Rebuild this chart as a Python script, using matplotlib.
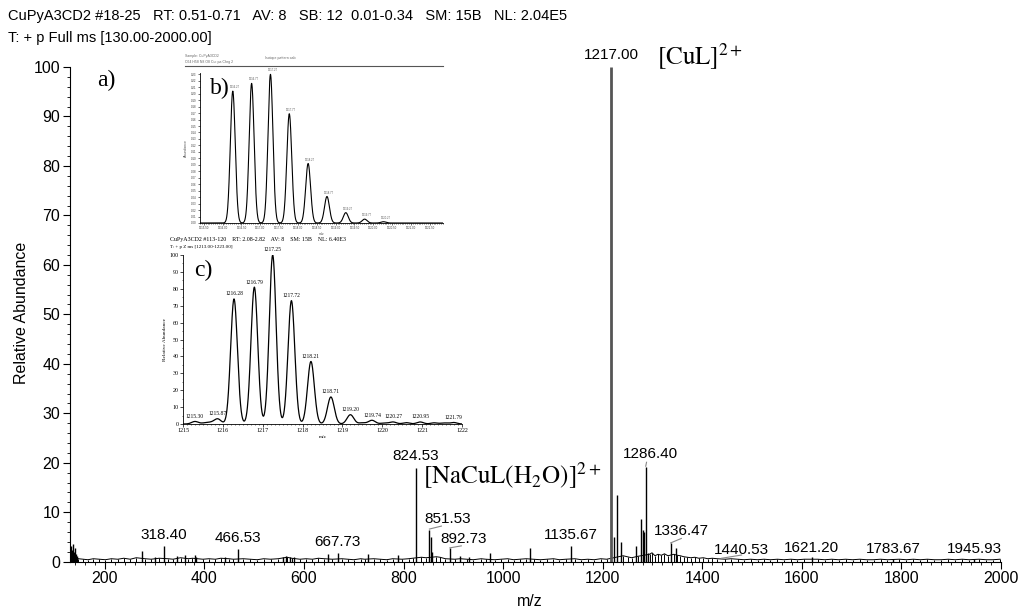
import numpy as np
import matplotlib
matplotlib.use('Agg')
import matplotlib.pyplot as plt
from matplotlib.ticker import MultipleLocator, FormatStrFormatter
from matplotlib.lines import Line2D

plt.rcParams['font.family'] = ['Liberation Sans', 'DejaVu Sans']
plt.rcParams['mathtext.fontset'] = 'stix'

# ---- main spectrum (m/z, relative abundance) ----
peak_mz = [133, 134.5, 136, 137.5, 139.5, 141.5, 144, 274, 300, 318.4, 344, 361, 381, 384,
           442, 466.53, 557, 563, 571, 579, 649, 667.73, 729, 789, 824.53, 851.53, 855, 858,
           892.73, 913, 932, 973, 1054, 1135.67, 1222, 1228, 1236, 1266, 1277, 1281, 1283,
           1286.4, 1291, 1336.47, 1347, 1621.2, 1783.67, 1945.93]
peak_h = [3.2, 2.4, 3.5, 2.0, 2.8, 1.6, 1.2, 2.2, 0.9, 3.2, 1.2, 1.4, 1.3, 1.0,
          0.9, 2.6, 1.0, 1.2, 1.0, 0.9, 1.6, 1.7, 1.6, 1.3, 18.9, 6.5, 5.0, 2.0,
          2.7, 1.1, 1.0, 1.7, 2.7, 3.2, 5.0, 13.5, 4.0, 3.2, 8.6, 6.4, 6.0,
          19.2, 1.8, 3.8, 2.8, 0.9, 0.6, 0.5]

# base peak (drawn grey, thick)
base_mz = [1217.0]
base_h = [100]

noise_mz = [131, 139, 147, 156, 166, 177, 189, 201, 213, 226, 238, 251, 263, 281, 293, 309,
            327, 337, 352, 368, 376, 397, 409, 422, 433, 449, 458, 478, 492, 506, 519, 533,
            548, 566, 575, 592, 604, 617, 629, 641, 657, 676, 688, 700, 714, 722, 740, 753,
            766, 778, 797, 810, 818, 836, 845, 866, 873, 884, 903, 914, 927, 940, 956, 965,
            983, 996, 1009, 1021, 1033, 1046, 1062, 1075, 1088, 1101, 1113, 1126, 1144, 1157,
            1170, 1183, 1196, 1208, 1241, 1250, 1258, 1271, 1294, 1299, 1305, 1311, 1318, 1324,
            1331, 1343, 1350, 1356, 1363, 1370, 1377, 1385, 1393, 1402, 1411, 1420, 1430, 1446,
            1458, 1471, 1484, 1497, 1511, 1524, 1537, 1551, 1564, 1578, 1591, 1605, 1632, 1646,
            1660, 1674, 1688, 1702, 1716, 1730, 1744, 1758, 1772, 1796, 1810, 1824, 1838, 1852,
            1866, 1880, 1894, 1908, 1922, 1936, 1956, 1970, 1984, 1998]
noise_h = [1.8, 0.9, 0.6, 0.5, 0.4, 0.6, 0.5, 0.4, 0.6, 0.5, 0.7, 0.5, 0.8, 0.6, 0.5, 0.7,
           0.6, 0.5, 0.8, 0.6, 0.7, 0.5, 0.6, 0.5, 0.7, 0.6, 0.5, 0.6, 0.5, 0.4, 0.6, 0.5,
           0.6, 0.9, 0.7, 0.5, 0.6, 0.5, 0.7, 0.6, 0.5, 0.6, 0.5, 0.4, 0.6, 0.5, 0.6, 0.5,
           0.4, 0.6, 0.5, 0.6, 0.7, 0.9, 0.8, 1.0, 0.9, 0.6, 0.5, 0.6, 0.5, 0.4, 0.6, 0.5,
           0.4, 0.5, 0.6, 0.4, 0.5, 0.6, 0.5, 0.4, 0.5, 0.6, 0.4, 0.5, 0.6, 0.4, 0.5, 0.4,
           0.6, 0.5, 1.2, 1.0, 0.8, 1.1, 1.5, 1.8, 1.2, 1.5, 1.3, 1.6, 1.2, 1.5, 1.3, 1.2,
           1.0, 0.9, 0.8, 0.9, 0.7, 0.8, 0.6, 0.7, 0.6, 0.5, 0.6, 0.5, 0.4, 0.5, 0.4, 0.5,
           0.4, 0.5, 0.4, 0.5, 0.4, 0.5, 0.5, 0.4, 0.5, 0.4, 0.5, 0.4, 0.5, 0.4, 0.4, 0.5,
           0.4, 0.5, 0.4, 0.5, 0.4, 0.5, 0.4, 0.4, 0.5, 0.4, 0.5, 0.4, 0.5, 0.4, 0.4, 0.5]

# peak labels: text, label x, label y (bottom), leader line start/end or None
lab_text = ['318.40', '466.53', '667.73', '824.53', '851.53', '892.73', '1135.67', '1217.00',
            '1286.40', '1336.47', '1440.53', '1621.20', '1783.67', '1945.93']
lab_x = [318.4, 466.5, 667.7, 824.5, 889, 921, 1135.7, 1218, 1295, 1358, 1479, 1619, 1783.7, 1945.9]
lab_y = [4.0, 3.4, 2.5, 20.0, 7.2, 3.2, 3.9, 101.0, 20.4, 4.7, 0.95, 1.3, 1.2, 1.2]
lead_from = [None, None, None, None, (852, 6.6), (893, 2.8), None, None, (1286.4, 19.3),
             (1336.5, 3.8), (1439, 0.7), None, None, None]
lead_to = [None, None, None, None, (876, 7.2), (916, 3.2), None, None, (1288, 20.1),
           (1358, 4.7), (1479, 1.35), None, None, None]

# ---- inset b (theoretical pattern) ----
b_mz = [1216.27, 1216.77, 1217.27, 1217.77, 1218.27, 1218.77, 1219.27, 1219.77, 1220.27]
b_h = [0.204, 0.216, 0.230, 0.169, 0.092, 0.041, 0.016, 0.006, 0.002]

# ---- inset c (zoom scan) ----
c_lab = ['1215.30', '1215.87', '1216.28', '1216.79', '1217.25', '1217.72', '1218.21',
         '1218.71', '1219.20', '1219.74', '1220.27', '1220.95', '1221.79']
c_h = [1.5, 3.0, 74, 81, 100, 73, 37, 16, 5.5, 2.2, 1.2, 1.2, 0.9]
c_noise_mz = [1215.55, 1215.7, 1219.5, 1220.05, 1220.6, 1221.3, 1221.55]
c_noise_h = [0.6, 0.8, 0.7, 0.6, 0.8, 0.7, 0.6]

W, H = 1020, 610
def fx(px):
    return px / W
def fy(py):
    return 1 - py / H

fig = plt.figure(figsize=(W / 100, H / 100), dpi=100)

ax = fig.add_axes([fx(70), fy(561.7), (1001 - 70) / W, (561.7 - 67) / H])
ax.set_xlim(130, 2000)
ax.set_ylim(0, 100)
ax.plot(noise_mz, noise_h, color='k', lw=0.7)
ax.vlines(noise_mz, 0, noise_h, color='k', lw=0.7)
ax.vlines(peak_mz, 0, peak_h, color='k', lw=1.0)
ax.vlines(base_mz, 0, base_h, color='#555555', lw=2.0)

for i in range(len(lab_text)):
    ax.text(lab_x[i], lab_y[i], lab_text[i], ha='center', va='bottom', fontsize=11)
    if lead_from[i] is not None:
        ax.plot([lead_from[i][0], lead_to[i][0]], [lead_from[i][1], lead_to[i][1]],
                color='#888888', lw=0.8)

for s in ['top', 'right']:
    ax.spines[s].set_visible(False)
ax.xaxis.set_major_locator(MultipleLocator(200))
ax.xaxis.set_minor_locator(MultipleLocator(20))
ax.yaxis.set_major_locator(MultipleLocator(10))
ax.yaxis.set_minor_locator(MultipleLocator(2))
ax.tick_params(which='major', length=5, width=0.8, labelsize=11.5, pad=2)
ax.tick_params(which='minor', length=2.5, width=0.6)

fig.text(fx(22), fy(313), 'Relative Abundance', rotation=90, ha='center', va='center', fontsize=11.5)
fig.text(fx(530), fy(601), 'm/z', ha='center', va='center', fontsize=11.5)

fig.text(fx(8), fy(16), 'CuPyA3CD2 #18-25   RT: 0.51-0.71   AV: 8   SB: 12  0.01-0.34   SM: 15B   NL: 2.04E5',
         ha='left', va='center', fontsize=10.5)
fig.text(fx(8), fy(38), 'T: + p Full ms [130.00-2000.00]', ha='left', va='center', fontsize=10.5)

fig.text(fx(97), fy(80), 'a)', ha='left', va='center', fontsize=17, family='Liberation Serif')
fig.text(fx(657), fy(57), r'$\mathrm{[CuL]^{2+}}$', ha='left', va='center', fontsize=18)
fig.text(fx(423), fy(476), r'$\mathrm{[NaCuL(H_2O)]^{2+}}$', ha='left', va='center', fontsize=18)

# ---- inset b ----
axb = fig.add_axes([fx(200), fy(223), (443 - 200) / W, (223 - 73) / H])
xb = np.linspace(1215.4, 1221.85, 1500)
yb = np.zeros_like(xb)
for m, h in zip(b_mz, b_h):
    yb += h * np.exp(-0.5 * ((xb - m) / 0.065) ** 2)
axb.plot(xb, yb, color='k', lw=0.8)
axb.set_xlim(1215.4, 1221.85)
axb.set_ylim(0, 0.232)
for m, h in zip(b_mz, b_h):
    axb.text(m + 0.05, h + 0.003, '%.2f' % m, ha='center', va='bottom', fontsize=2, color='#555555')
for s in ['top', 'right']:
    axb.spines[s].set_visible(False)
axb.spines['left'].set_linewidth(0.6)
axb.spines['bottom'].set_linewidth(0.6)
axb.xaxis.set_major_locator(MultipleLocator(0.5))
axb.xaxis.set_minor_locator(MultipleLocator(0.05))
axb.xaxis.set_major_formatter(FormatStrFormatter('%.2f'))
axb.yaxis.set_major_locator(MultipleLocator(0.01))
axb.yaxis.set_major_formatter(FormatStrFormatter('%.2f'))
axb.tick_params(which='major', length=1.5, width=0.5, labelsize=2, pad=1, colors='#333333')
axb.tick_params(which='minor', length=1, width=0.4)
axb.set_ylabel('Abundance', fontsize=2.5, labelpad=2, color='#555555')
axb.set_xlabel('m/z', fontsize=2.5, labelpad=1, color='#555555')
fig.add_artist(Line2D([fx(185), fx(443)], [fy(66), fy(66)], color='#555555', lw=0.8))
fig.text(fx(185), fy(56), 'Sample: CuPyA3CD2', fontsize=2.5, color='#666666', ha='left', va='center')
fig.text(fx(185), fy(62), 'C64 H58 N8 O8 Cu: pa Chrg 2', fontsize=2.5, color='#666666', ha='left', va='center')
fig.text(fx(265), fy(58), 'Isotope pattern calc', fontsize=2.5, color='#666666', ha='left', va='center')
fig.text(fx(220), fy(88), 'b)', ha='center', va='center', fontsize=17, family='Liberation Serif')

# ---- inset c ----
axc = fig.add_axes([fx(183), fy(424), (462 - 183) / W, (424 - 255) / H])
c_mz = [float(t) for t in c_lab]
xc = np.linspace(1215, 1222, 1500)
yc = np.zeros_like(xc)
for m, h in zip(c_mz + c_noise_mz, c_h + c_noise_h):
    yc += h * np.exp(-0.5 * ((xc - m) / 0.085) ** 2)
axc.plot(xc, yc, color='k', lw=0.9)
axc.set_xlim(1215, 1222)
axc.set_ylim(0, 100)
for t, m, h in zip(c_lab, c_mz, c_h):
    axc.text(m, h + 1.5, t, ha='center', va='bottom', fontsize=4, family='Liberation Serif')
for s in ['top', 'right']:
    axc.spines[s].set_visible(False)
axc.spines['left'].set_linewidth(0.6)
axc.spines['bottom'].set_linewidth(0.6)
axc.xaxis.set_major_locator(MultipleLocator(1))
axc.xaxis.set_minor_locator(MultipleLocator(0.1))
axc.yaxis.set_major_locator(MultipleLocator(10))
axc.yaxis.set_minor_locator(MultipleLocator(5))
axc.tick_params(which='major', length=2, width=0.5, labelsize=4.3, pad=1)
axc.tick_params(which='minor', length=1, width=0.4)
for lab in axc.get_xticklabels() + axc.get_yticklabels():
    lab.set_family('Liberation Serif')
axc.set_ylabel('Relative Abundance', fontsize=3.8, labelpad=2, family='Liberation Serif')
axc.set_xlabel('m/z', fontsize=3.8, labelpad=1, family='Liberation Serif')
fig.text(fx(170), fy(240), 'CuPyA3CD2 #113-120    RT: 2.08-2.82    AV: 8    SM: 15B    NL: 6.40E3',
         fontsize=4.3, ha='left', va='center', family='Liberation Serif')
fig.text(fx(170), fy(246.5), 'T: + p Z ms [1213.00-1223.00]', fontsize=3.6, ha='left', va='center',
         family='Liberation Serif')
fig.text(fx(203), fy(270), 'c)', ha='center', va='center', fontsize=17, family='Liberation Serif')

fig.savefig('out.png', dpi=100)
